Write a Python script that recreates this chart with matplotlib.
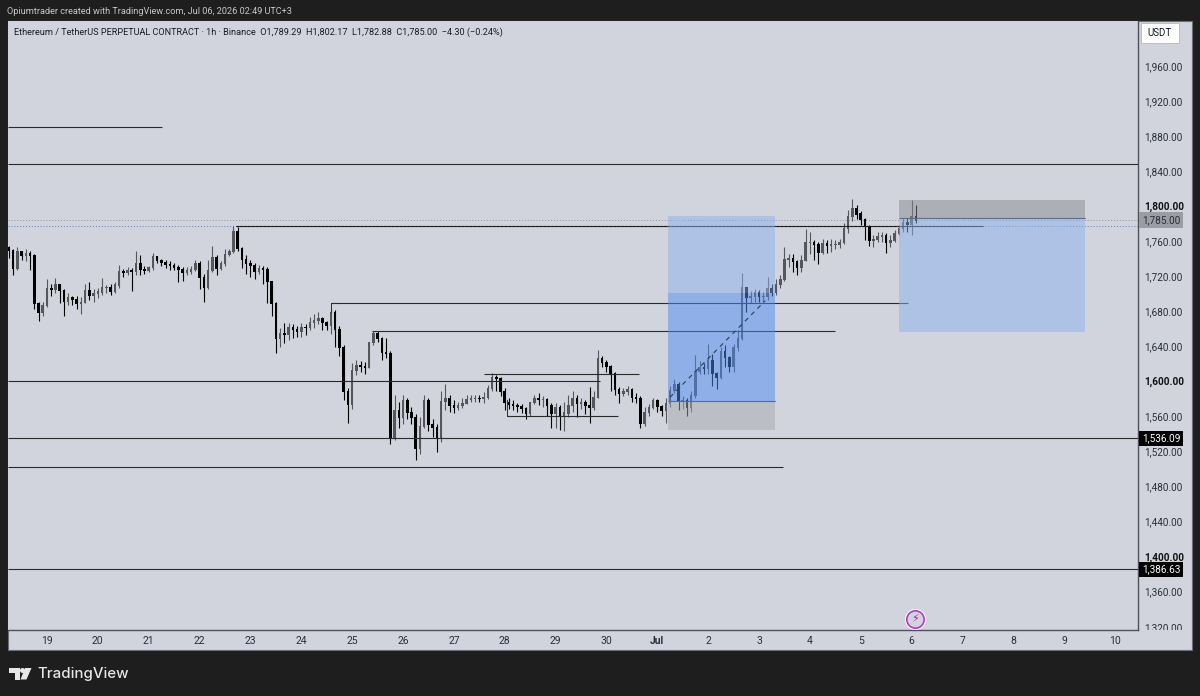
import matplotlib
matplotlib.use("Agg")
import matplotlib.pyplot as plt
from matplotlib.patches import Rectangle, Polygon, Circle
from matplotlib.transforms import Bbox, IdentityTransform

plt.rcParams['font.family'] = ['Roboto', 'DejaVu Sans']

first_open = 1754
closes = [1750,1730,1749,1745,1747,1745,1690,1680,1688,
 1707,1706,1712,1705,1692,1697,1694,1690,1691,1705,1699,1701,
 1703,1708,1708,1704,1711,1726,1725,1727,1726,1735,1729,1728,
 1731,1743,1739,1737,1734,1733,1731,1729,1725,1727,1729,1736,
 1720,1708,1728,1742,1730,1735,1746,1749,1772,1753,1740,1736,
 1733,1727,1730,1729,1715,1690,1650,1656,1655,1662,1660,1658,
 1663,1662,1668,1670,1673,1668,1665,1680,1660,1640,1590,1575,
 1614,1619,1618,1617,1645,1656,1650,1634,1633,1537,1568,1560,
 1579,1566,1560,1525,1550,1579,1552,1548,1537,1578,1582,1574,
 1571,1574,1576,1580,1581,1582,1581,1583,1593,1605,1604,1590,
 1577,1575,1574,1572,1570,1564,1577,1582,1580,1580,1574,1564,
 1571,1562,1565,1574,1582,1576,1577,1574,1571,1583,1627,1623,
 1618,1610,1592,1587,1590,1592,1583,1582,1553,1566,1571,1579,
 1572,1568,1576,1591,1598,1579,1579,1571,1585,1612,1617,1616,
 1625,1610,1605,1635,1628,1618,1640,1650,1708,1697,1698,1702,
 1698,1698,1707,1703,1712,1717,1740,1741,1738,1731,1739,1760,
 1760,1757,1748,1758,1756,1757,1757,1759,1775,1789,1798,1792,
 1786,1778,1762,1763,1766,1767,1759,1762,1770,1775,1782,1780,
 1789,1785]
highs = [1756,1752,1754,1750,1752,1750,1746,1692,1692,
 1718,1712,1719,1712,1706,1702,1699,1698,1697,1712,1714,1706,
 1708,1719,1711,1712,1714,1734,1729,1731,1730,1750,1745,1733,
 1733,1748,1744,1741,1739,1738,1736,1734,1731,1732,1733,1740,
 1738,1724,1740,1756,1745,1738,1752,1752,1778,1777,1754,1745,
 1740,1736,1734,1733,1731,1716,1692,1662,1668,1668,1666,1664,
 1668,1666,1674,1678,1680,1675,1670,1684,1682,1664,1642,1594,
 1622,1626,1624,1623,1646,1658,1659,1652,1650,1636,1586,1578,
 1585,1582,1572,1564,1560,1586,1582,1558,1552,1590,1598,1586,
 1580,1578,1582,1585,1585,1586,1585,1589,1597,1611,1608,1606,
 1593,1582,1580,1576,1575,1572,1578,1586,1588,1584,1582,1576,
 1576,1574,1578,1586,1590,1585,1582,1580,1595,1590,1637,1630,
 1626,1620,1612,1595,1594,1596,1594,1588,1584,1572,1575,1582,
 1581,1574,1582,1596,1604,1600,1584,1582,1590,1631,1624,1622,
 1644,1632,1612,1640,1642,1630,1644,1660,1725,1708,1704,1706,
 1705,1703,1720,1712,1718,1722,1754,1746,1746,1740,1745,1775,
 1772,1762,1760,1763,1762,1763,1762,1764,1782,1797,1809,1802,
 1795,1788,1780,1768,1772,1772,1770,1768,1774,1780,1788,1788,
 1808,1802]
lows = [1742,1722,1728,1740,1738,1728,1684,1670,1676,
 1686,1698,1702,1690,1676,1688,1688,1684,1678,1690,1694,1692,
 1696,1700,1702,1700,1702,1708,1720,1722,1704,1722,1722,1724,
 1726,1728,1736,1733,1730,1728,1728,1714,1716,1722,1724,1727,
 1706,1692,1706,1726,1722,1728,1733,1744,1748,1750,1730,1724,
 1720,1718,1724,1712,1690,1676,1633,1640,1645,1648,1650,1652,
 1652,1654,1660,1662,1666,1660,1660,1655,1640,1630,1580,1553,
 1570,1608,1612,1610,1616,1642,1646,1626,1628,1530,1534,1548,
 1552,1558,1552,1511,1518,1548,1545,1538,1520,1532,1568,1566,
 1565,1568,1571,1575,1577,1578,1578,1576,1581,1590,1590,1584,
 1568,1570,1568,1566,1565,1558,1562,1575,1574,1572,1562,1548,
 1548,1546,1545,1560,1566,1560,1570,1564,1554,1568,1582,1618,
 1612,1590,1586,1576,1584,1586,1578,1576,1548,1550,1562,1570,
 1566,1562,1553,1572,1588,1568,1570,1562,1566,1582,1610,1610,
 1610,1596,1592,1604,1618,1612,1612,1636,1648,1680,1690,1692,
 1692,1692,1694,1698,1700,1708,1716,1732,1726,1722,1726,1738,
 1746,1740,1735,1746,1748,1749,1752,1753,1758,1770,1784,1786,
 1780,1762,1755,1754,1760,1760,1748,1754,1760,1768,1772,1772,
 1768,1782]
first_bar_day = -9 / 12
bar_days = [first_bar_day + i / 12 for i in range(len(closes))]
opens = [first_open] + closes[:-1]

day_labels = ['19','20','21','22','23','24','25','26','27','28','29','30','Jul','2','3','4','5','6','7','8','9','10']
price_ticks = [1320,1360,1400,1440,1480,1520,1560,1600,1640,1680,1720,1760,1800,1840,1880,1920,1960]
bold_prices = [1400,1600,1800]

# level lines: price, start day, end day
levels = [(1891.4,-0.77,2.26),(1849,-0.77,21.5),(1778,3.72,18.40),(1691,5.58,16.93),
          (1659,6.39,15.49),(1601,-0.77,10.87),(1610,8.59,11.64),(1562,9.04,11.23),
          (1579,12.21,14.31),(1536.09,-0.77,21.5),(1503,-0.77,14.47),(1386.63,-0.77,21.5),
          (1787,16.75,20.41)]
long_pos = dict(x0=12.21, x1=14.31, target=1790, mid=1702, entry=1579, stop=1546)
short_pos = dict(x0=16.75, x1=20.41, stop=1808, entry=1787, target=1657)
last_price = 1785.00
dotted_level = 1778

BG = '#1e1e1e'; PANEL = '#d1d4dc'; AXC = '#4f525c'
W, H = 1200, 696
fig = plt.figure(figsize=(W/100, H/100), dpi=100, facecolor=BG)

def px(x, y, w, h, **kw):
    return Rectangle((x/W, 1-(y+h)/H), w/W, h/H, transform=fig.transFigure, **kw)

fig.patches.append(px(8, 21, 1184, 629, facecolor=PANEL, edgecolor='#6b6e78', lw=0.8))
ax = fig.add_axes([8/W, 1-630/H, 1130/W, 609/H], facecolor=PANEL)
ax.set_zorder(2)
ax.set_xlim((8-47)/50.86, (1138-47)/50.86)
ax.set_ylim(1317.4, 2012.2)
for s in ('top', 'left'):
    ax.spines[s].set_visible(False)
ax.spines['right'].set_color(AXC); ax.spines['bottom'].set_color(AXC)
ax.spines['right'].set_linewidth(1.0); ax.spines['bottom'].set_linewidth(1.0)

# candles
up = [c >= o for o, c in zip(opens, closes)]
cols = ['#55575c' if u else '#000000' for u in up]
ax.vlines(bar_days, lows, highs, colors=cols, lw=0.8, zorder=3)
ax.bar(bar_days, [abs(c-o) + 1.2 for o, c in zip(opens, closes)],
       bottom=[min(o, c) - 0.6 for o, c in zip(opens, closes)],
       width=0.05, color=cols, linewidth=0, zorder=3)

# levels
for p, a, b in levels:
    ax.plot([a, b], [p, p], color='#2b2b2e', lw=0.8, zorder=4, solid_capstyle='butt')
ax.plot([5.58, 5.58], [1691, 1680], color='#2b2b2e', lw=0.7, zorder=4)
ax.plot([9.04, 9.04], [1562, 1580], color='#2b2b2e', lw=0.7, zorder=4)

# positions
lp = long_pos; sp = short_pos
def band(x0, x1, p0, p1, c):
    ax.add_patch(Rectangle((x0, p0), x1-x0, p1-p0, facecolor=c, alpha=0.5, lw=0, zorder=5))
band(lp['x0'], lp['x1'], lp['mid'], lp['target'], '#8bb2ec')
band(lp['x0'], lp['x1'], lp['entry'], lp['mid'], '#4d8cf4')
band(lp['x0'], lp['x1'], lp['stop'], lp['entry'], '#a7aab0')
band(sp['x0'], sp['x1'], sp['entry'], sp['stop'], '#8b8c94')
band(sp['x0'], sp['x1'], sp['target'], sp['entry'], '#8bb2ec')
ax.plot([12.25, 14.12], [1583, 1693], color='#333a4a', lw=0.8, ls=(0, (4, 4)), zorder=6)

# last price & dotted levels
ax.axhline(last_price, color='#8f929a', lw=0.7, ls=(0, (1, 2)), zorder=2)
ax.axhline(dotted_level, color='#5b7fb5', lw=0.7, ls=(0, (1, 2)), zorder=2)
ax.plot([3.72, 18.40], [dotted_level, dotted_level], color='#1a1a1a', lw=0.8, ls=(0, (2, 1.5)), zorder=4)

# axes ticks
ax.set_xticks(range(len(day_labels)))
ax.set_xticklabels(day_labels, fontsize=7.5, color='#2a2e39')
ax.get_xticklabels()[12].set_fontweight('bold')
ax.yaxis.tick_right()
ax.set_yticks(price_ticks)
ax.set_yticklabels([f'{p:,.2f}' for p in price_ticks], fontsize=7.2, color='#2a2e39')
clip = Bbox([[1138, 66], [1192, 696]])
for p, l in zip(price_ticks, ax.get_yticklabels()):
    if p in bold_prices:
        l.set_fontweight('bold'); l.set_color('#111111')
    l.set_clip_on(True); l.set_clip_box(clip)
    l.set_verticalalignment('center')
ax.tick_params(axis='both', length=0)
ax.tick_params(axis='y', pad=4.5)
ax.tick_params(axis='x', pad=4.5)

# price tags
def tag(p, txt, fc, tc):
    ax.annotate(txt, xy=(1, p), xycoords=('axes fraction', 'data'), xytext=(23, 0),
                textcoords='offset pixels', ha='center', va='center',
                fontsize=7.2, color=tc, zorder=10, annotation_clip=False,
                bbox=dict(boxstyle='square,pad=0.28', fc=fc, ec='none'))
tag(last_price, '1,785.00', '#9b9da4', '#2a2e39')
tag(1536.09, '1,536.09', '#000000', '#ffffff')
tag(1386.63, '1,386.63', '#000000', '#ffffff')

# USDT button
fig.patches.append(px(1141, 23, 38, 20, facecolor='#ffffff', edgecolor='#b5b8c0', lw=0.6))
fig.text(1160/W, 1-33/H, 'USDT', fontsize=7, color='#131722', ha='center', va='center')

# titles
fig.text(7/W, 1-11/H, 'Opiumtrader created with TradingView.com, Jul 06, 2026 02:49 UTC+3',
         fontsize=6.6, color='#c8c8c8', va='center')
fig.text(14/W, 1-32/H, 'Ethereum / TetherUS PERPETUAL CONTRACT · 1h · Binance  O1,789.29  H1,802.17  L1,782.88  C1,785.00  −4.30 (−0.24%)',
         fontsize=6.55, color='#1a1d26', va='center', zorder=5)

# event icon
ix, iy = (915-47)/50.86, 1329.5
ax.add_line(plt.Line2D([ix], [iy], marker='o', ms=15, mfc='#ffffff', mec='none', zorder=7))
ax.add_line(plt.Line2D([ix], [iy], marker='o', ms=12.5, mfc=PANEL, mec='#b13bc6', mew=1.2, zorder=8))
ax.text(ix, iy, '\u26a1', family='DejaVu Sans', fontsize=8, color='#9c27b0', ha='center', va='center', zorder=9)

# logo
def poly(points):
    fig.patches.append(Polygon([(x/W, 1-y/H) for x, y in points], closed=True,
                               transform=fig.transFigure, facecolor='#e8e8e8', edgecolor='none'))
poly([(9, 668), (20, 668), (20, 679.5), (15, 679.5), (15, 673), (9, 673)])
poly([(25, 668), (31.5, 668), (26.5, 679.5), (20.5, 679.5)])
fig.patches.append(Circle((22.5, H-670.5), 2.5, transform=IdentityTransform(), facecolor='#e8e8e8', edgecolor='none'))
fig.text(37/W, 1-674/H, 'TradingView', fontsize=10.8, fontweight='medium', family=['Inter', 'DejaVu Sans'],
         color='#e6e6e6', va='center')

fig.savefig('out.png', dpi=100, facecolor=BG)
